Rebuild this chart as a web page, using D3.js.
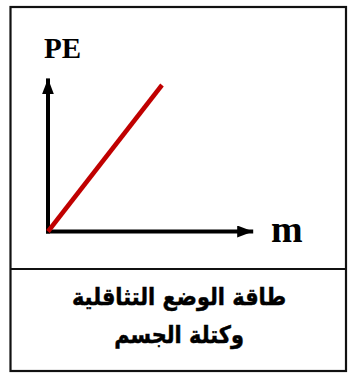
<!DOCTYPE html>
<html>
<head>
<meta charset="utf-8">
<script src="https://cdn.jsdelivr.net/npm/d3@7/dist/d3.min.js"></script>
<style>
  html, body { margin: 0; padding: 0; background: #fff; }
  svg { display: block; }
</style>
</head>
<body>
<script>
// Gravitational potential energy grows linearly with mass
const massValues = [0, 1];
const peValues = [0, 1];
const axisExtent = { m: 1.8, pe: 1.045 };
const xLabel = "m";
const yLabel = "PE";
const captionLines = ["طاقة الوضع التثاقلية", "وكتلة الجسم"];

const W = 357, H = 383;
const svg = d3.select("body").append("svg").attr("width", W).attr("height", H);

const x = d3.scaleLinear().domain([0, 1]).range([48, 162]);
const y = d3.scaleLinear().domain([0, 1]).range([231.5, 85]);

// Outer frame and caption divider
svg.append("rect").attr("x", 10.5).attr("y", 7).attr("width", 335.5).attr("height", 364)
  .attr("fill", "none").attr("stroke", "#111").attr("stroke-width", 2.2);
svg.append("line").attr("x1", 10).attr("x2", 346).attr("y1", 269).attr("y2", 269)
  .attr("stroke", "#111").attr("stroke-width", 2);

// Arrowhead
const defs = svg.append("defs");
defs.append("marker").attr("id", "arrow")
  .attr("viewBox", "0 0 16 12").attr("refX", 16).attr("refY", 6)
  .attr("markerWidth", 16).attr("markerHeight", 12)
  .attr("markerUnits", "userSpaceOnUse").attr("orient", "auto")
  .append("path").attr("d", "M0,0 L16,6 L0,12 Z").attr("fill", "#000");

// Axes
svg.append("line")
  .attr("x1", x(0) - 2).attr("y1", y(0)).attr("x2", x(axisExtent.m)).attr("y2", y(0))
  .attr("stroke", "#000").attr("stroke-width", 4).attr("marker-end", "url(#arrow)");
svg.append("line")
  .attr("x1", x(0)).attr("y1", y(0) + 2).attr("x2", x(0)).attr("y2", y(axisExtent.pe))
  .attr("stroke", "#000").attr("stroke-width", 4).attr("marker-end", "url(#arrow)");

// PE vs m line
const line = d3.line().x((d, i) => x(massValues[i])).y(d => y(d));
svg.append("path").datum(peValues).attr("d", line)
  .attr("fill", "none").attr("stroke", "#c00000").attr("stroke-width", 4.5);

// Axis labels
svg.append("text").attr("x", 44).attr("y", 58).text(yLabel)
  .attr("font-family", "Liberation Serif, serif").attr("font-weight", "bold")
  .attr("font-size", 29).attr("fill", "#000");
svg.append("text").attr("x", 271).attr("y", 242).text(xLabel)
  .attr("font-family", "Liberation Serif, serif").attr("font-weight", "bold")
  .attr("font-size", 38).attr("fill", "#000");

// Caption (two centred lines, slightly condensed)
svg.selectAll("text.caption").data(captionLines).join("text")
  .attr("class", "caption")
  .attr("transform", (d, i) => `translate(179,${305 + i * 38}) scale(0.87,1)`)
  .attr("text-anchor", "middle").attr("direction", "rtl")
  .attr("font-family", "DejaVu Sans, sans-serif").attr("font-weight", "bold")
  .attr("font-size", 24).attr("fill", "#000")
  .attr("stroke", "#000").attr("stroke-width", 0.5)
  .text(d => d);
</script>
</body>
</html>
